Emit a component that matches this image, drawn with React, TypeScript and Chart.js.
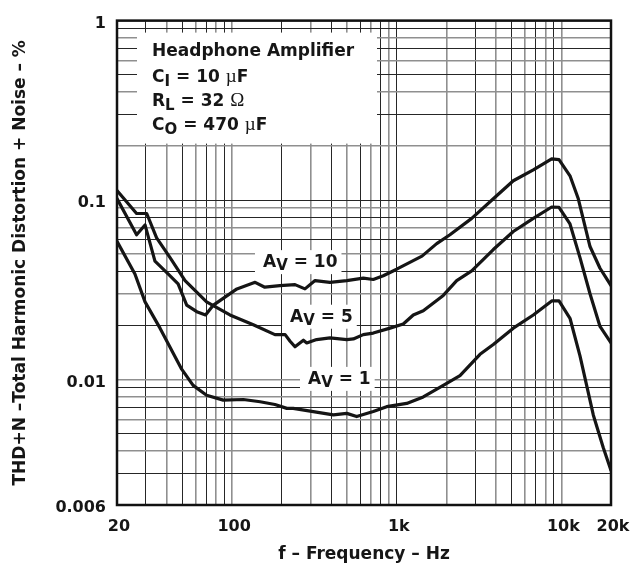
import React, { useEffect, useRef } from 'react';
import { Chart, registerables } from 'chart.js';

Chart.register(...registerables);

// ---- data (frequency in Hz, THD+N in %) ----
const av10Freq = [20, 26.3, 29.6, 34, 41, 47, 53, 61, 69, 77, 107, 138, 158, 195, 241, 277, 319, 393, 497, 626, 720, 828, 999, 1423, 1748, 2104, 2852, 3858, 5102, 6750, 8726, 9666, 11272, 12660, 14912, 17150, 20000];
const av10Thd = [0.102, 0.0641, 0.0727, 0.0457, 0.0387, 0.0341, 0.026, 0.0239, 0.0229, 0.026, 0.032, 0.0348, 0.0327, 0.0334, 0.0338, 0.032, 0.0356, 0.0348, 0.0356, 0.0367, 0.0361, 0.0379, 0.0412, 0.0487, 0.0572, 0.0641, 0.0791, 0.1017, 0.1281, 0.1472, 0.1697, 0.168, 0.1365, 0.1017, 0.0551, 0.0417, 0.0334];

const av5Freq = [20, 26.3, 30.3, 34.8, 42, 51.8, 70, 97, 134.5, 182, 210, 225, 241, 271, 284, 326, 393, 497, 545, 626, 720, 910, 1095, 1260, 1449, 1916, 2312, 2852, 3858, 5102, 6750, 8726, 9666, 11272, 12962, 14912, 17150, 20000];
const av5Thd = [0.1129, 0.0842, 0.0842, 0.0615, 0.0478, 0.0356, 0.0271, 0.0229, 0.0202, 0.0178, 0.0178, 0.01636, 0.01522, 0.01657, 0.016, 0.0167, 0.01705, 0.0167, 0.01684, 0.0178, 0.01816, 0.01934, 0.0204, 0.0229, 0.02417, 0.02943, 0.0356, 0.0403, 0.053, 0.0668, 0.0791, 0.0915, 0.0912, 0.0736, 0.0478, 0.03006, 0.01976, 0.016];

const av1Freq = [20, 25.7, 29.6, 36.5, 49.4, 58, 70, 88.4, 117, 148, 182, 215, 235, 311, 412, 497, 571, 720, 868, 1149, 1449, 1916, 2421, 3203, 3858, 5102, 6750, 8726, 9666, 11272, 12962, 15614, 17960, 20000];
const av1Thd = [0.0589, 0.0387, 0.0271, 0.01934, 0.01143, 0.00928, 0.00818, 0.00768, 0.00774, 0.00752, 0.00726, 0.00691, 0.00691, 0.00663, 0.00635, 0.00648, 0.00622, 0.00663, 0.00706, 0.00736, 0.008, 0.00928, 0.01052, 0.01382, 0.01567, 0.01934, 0.0229, 0.02742, 0.02742, 0.02195, 0.01354, 0.00635, 0.00417, 0.00311];

// ---- axes ----
const xGridValues = [20, 30, 40, 50, 60, 70, 80, 90, 100, 200, 300, 400, 500, 600, 700, 800, 900, 1000, 2000, 3000, 4000, 5000, 6000, 7000, 8000, 9000, 10000, 20000];
const xTickValues = [20, 100, 1000, 10000, 20000];
const xTickLabels = ['20', '100', '1k', '10k', '20k'];

const yGridValues = [0.002, 0.003, 0.004, 0.005, 0.006, 0.007, 0.008, 0.009, 0.01, 0.02, 0.03, 0.04, 0.05, 0.06, 0.07, 0.08, 0.09, 0.1, 0.2, 0.3, 0.4, 0.5, 0.6, 0.7, 0.8, 0.9, 1];
const yTickValues = [0.002, 0.01, 0.1, 1];
const yTickLabels = ['0.006', '0.01', '0.1', '1'];

const xTitle = 'f \u2013 Frequency \u2013 Hz';
const yTitle = 'THD+N \u2013Total Harmonic Distortion + Noise \u2013 %';

// curve labels (anchored in data coordinates: left edge of text, baseline)
const curveLabelGain = ['10', '5', '1'];
const curveLabelFreq = [154, 225, 289];
const curveLabelThd = [0.0423, 0.021, 0.00946];

const FONT = '"DejaVu Sans", "Liberation Sans", Arial, sans-serif';
const MAIN = `bold 17px ${FONT}`;
const SUB = `bold 15px ${FONT}`;
const SYM = `19px "Liberation Serif", "DejaVu Serif", serif`;
const INK = '#161616';

type Run = { t: string; f: string; dy?: number };

function runsWidth(ctx: CanvasRenderingContext2D, runs: Run[]) {
  let w = 0;
  for (const r of runs) {
    ctx.font = r.f;
    w += ctx.measureText(r.t).width;
  }
  return w;
}

function drawRuns(ctx: CanvasRenderingContext2D, x: number, y: number, runs: Run[]) {
  let cx = x;
  ctx.textBaseline = 'alphabetic';
  ctx.textAlign = 'left';
  ctx.fillStyle = INK;
  for (const r of runs) {
    ctx.font = r.f;
    ctx.fillText(r.t, cx, y + (r.dy || 0));
    cx += ctx.measureText(r.t).width;
  }
}

const annotations = {
  id: 'annotations',
  beforeDatasetsDraw(chart: any) {
    const { ctx, chartArea: a, scales } = chart;
    const xs = scales.x;
    const ys = scales.y;
    ctx.save();
    // legend box
    ctx.fillStyle = '#ffffff';
    ctx.fillRect(a.left + 20, a.top + 12, 240, 111);
    const lx = a.left + 35;
    drawRuns(ctx, lx, a.top + 35, [{ t: 'Headphone Amplifier', f: MAIN }]);
    drawRuns(ctx, lx, a.top + 61, [
      { t: 'C', f: MAIN }, { t: 'I', f: SUB, dy: 4 }, { t: ' = 10 ', f: MAIN }, { t: '\u00b5', f: SYM }, { t: 'F', f: MAIN },
    ]);
    drawRuns(ctx, lx, a.top + 85, [
      { t: 'R', f: MAIN }, { t: 'L', f: SUB, dy: 4 }, { t: ' = 32 ', f: MAIN }, { t: '\u03a9', f: SYM },
    ]);
    drawRuns(ctx, lx, a.top + 109, [
      { t: 'C', f: MAIN }, { t: 'O', f: SUB, dy: 4 }, { t: ' = 470 ', f: MAIN }, { t: '\u00b5', f: SYM }, { t: 'F', f: MAIN },
    ]);
    // curve labels
    for (let i = 0; i < curveLabelGain.length; i++) {
      const runs: Run[] = [{ t: 'A', f: MAIN }, { t: 'V', f: SUB, dy: 3 }, { t: ' = ' + curveLabelGain[i], f: MAIN }];
      const px = xs.getPixelForValue(curveLabelFreq[i]);
      const py = ys.getPixelForValue(curveLabelThd[i]);
      const w = runsWidth(ctx, runs);
      ctx.fillStyle = '#ffffff';
      ctx.fillRect(px - 8, py - 17, w + 12, 24);
      drawRuns(ctx, px, py, runs);
    }
    ctx.restore();
  },
  afterDraw(chart: any) {
    const { ctx, chartArea: a } = chart;
    ctx.save();
    ctx.strokeStyle = '#111';
    ctx.lineWidth = 2.5;
    ctx.strokeRect(a.left, a.top, a.right - a.left, a.bottom - a.top);
    ctx.restore();
  },
};

const gridColor = (c: any) => (c.index % 2 === 0 ? '#8f8f8f' : '#262626');
const gridWidth = (c: any) => (c.index % 2 === 0 ? 1.6 : 1);

export default function App() {
  const ref = useRef<HTMLCanvasElement | null>(null);

  useEffect(() => {
    if (!ref.current) return;
    const mk = (fx: number[], fy: number[]) => fx.map((v, i) => ({ x: v, y: fy[i] }));
    const lineStyle = { borderColor: '#151515', borderWidth: 3.2, pointRadius: 0, tension: 0, fill: false, borderJoinStyle: 'round' as const, borderCapStyle: 'round' as const };
    const chart = new Chart(ref.current, {
      type: 'line',
      data: {
        datasets: [
          { label: 'AV = 10', data: mk(av10Freq, av10Thd), ...lineStyle },
          { label: 'AV = 5', data: mk(av5Freq, av5Thd), ...lineStyle },
          { label: 'AV = 1', data: mk(av1Freq, av1Thd), ...lineStyle },
        ],
      },
      options: {
        responsive: false,
        animation: false,
        devicePixelRatio: 1,
        layout: { padding: { left: 0, right: 30, top: 12, bottom: 0 } },
        plugins: { legend: { display: false }, tooltip: { enabled: false } },
        scales: {
          x: {
            type: 'logarithmic',
            min: 20,
            max: 20000,
            afterBuildTicks: (s: any) => { s.ticks = xGridValues.map((v) => ({ value: v })); },
            afterFit: (s: any) => { s.height = 70; },
            grid: { color: gridColor, lineWidth: gridWidth, drawTicks: false },
            border: { display: true, color: '#111', width: 2 },
            ticks: {
              autoSkip: false,
              maxRotation: 0,
              minRotation: 0,
              padding: 12,
              labelOffset: 2,
              color: INK,
              font: { family: FONT, size: 16, weight: 'bold' },
              callback: (v: any) => {
                const k = xTickValues.indexOf(Number(v));
                return k >= 0 ? xTickLabels[k] : '';
              },
            },
            title: { display: true, text: xTitle, color: INK, font: { family: FONT, size: 17, weight: 'bold' }, padding: { top: 0, bottom: 10 } },
          },
          y: {
            type: 'logarithmic',
            min: 0.002,
            max: 1,
            afterBuildTicks: (s: any) => { s.ticks = yGridValues.map((v) => ({ value: v })); },
            afterFit: (s: any) => { s.width = 117; },
            grid: { color: gridColor, lineWidth: gridWidth, drawTicks: false },
            border: { display: true, color: '#111', width: 2 },
            ticks: {
              autoSkip: false,
              padding: 11,
              labelOffset: 3,
              color: INK,
              font: { family: FONT, size: 16, weight: 'bold' },
              callback: (v: any) => {
                const n = Number(v);
                const k = yTickValues.findIndex((t) => Math.abs(t - n) / t < 1e-6);
                return k >= 0 ? yTickLabels[k] : '';
              },
            },
            title: { display: true, text: yTitle, color: INK, font: { family: FONT, size: 17, weight: 'bold' }, padding: { top: 10, bottom: 0 } },
          },
        },
      } as any,
      plugins: [annotations],
    });
    return () => chart.destroy();
  }, []);

  return (
    <div style={{ position: 'absolute', left: 0, top: 0, width: 641, height: 575, background: '#fff' }}>
      <canvas ref={ref} width={641} height={575} style={{ display: 'block' }} />
    </div>
  );
}
